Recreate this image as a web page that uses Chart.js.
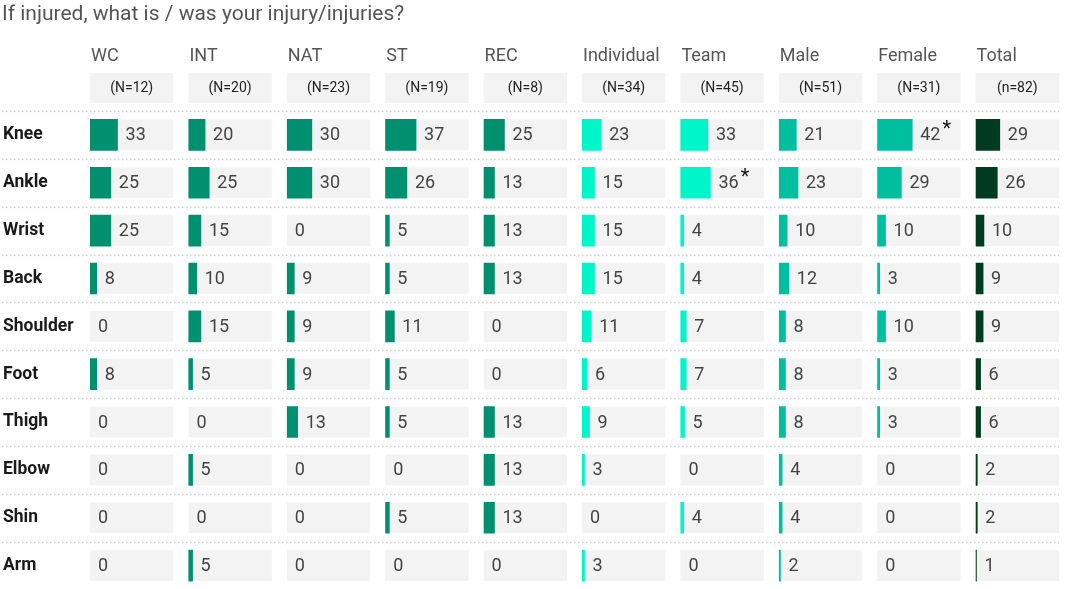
<!DOCTYPE html>
<html>
<head>
<meta charset="utf-8">
<script src="https://cdn.jsdelivr.net/npm/chart.js@4.4.1/dist/chart.umd.min.js"></script>
<style>
  html, body { margin: 0; padding: 0; background: #fff; overflow: hidden; }
  canvas { display: block; }
</style>
</head>
<body>
<canvas id="grafico" width="1065" height="600"></canvas>
<script>
const titulo = 'If injured, what is / was your injury/injuries?';

const lesoes = ['Knee', 'Ankle', 'Wrist', 'Back', 'Shoulder', 'Foot', 'Thigh', 'Elbow', 'Shin', 'Arm'];
const grupos = ['WC', 'INT', 'NAT', 'ST', 'REC', 'Individual', 'Team', 'Male', 'Female', 'Total'];
const amostras = ['(N=12)', '(N=20)', '(N=23)', '(N=19)', '(N=8)', '(N=34)', '(N=45)', '(N=51)', '(N=31)', '(n=82)'];

// percentuais por grupo, na ordem de lesoes
const valoresWC         = [33, 25, 25, 8, 0, 8, 0, 0, 0, 0];
const valoresINT        = [20, 25, 15, 10, 15, 5, 0, 5, 0, 5];
const valoresNAT        = [30, 30, 0, 9, 9, 9, 13, 0, 0, 0];
const valoresST         = [37, 26, 5, 5, 11, 5, 5, 0, 5, 0];
const valoresREC        = [25, 13, 13, 13, 0, 0, 13, 13, 13, 0];
const valoresIndividual = [23, 15, 15, 15, 11, 6, 9, 3, 0, 3];
const valoresTeam       = [33, 36, 4, 4, 7, 7, 5, 0, 4, 0];
const valoresMale       = [21, 23, 10, 12, 8, 8, 8, 4, 4, 2];
const valoresFemale     = [42, 29, 10, 3, 10, 3, 3, 0, 0, 0];
const valoresTotal      = [29, 26, 10, 9, 9, 6, 6, 2, 2, 1];

// diferencas marcadas com asterisco: [grupo, lesao]
const destaques = [['Female', 'Knee'], ['Team', 'Ankle']];

const escalaMax = 100;

const colunas = [valoresWC, valoresINT, valoresNAT, valoresST, valoresREC,
  valoresIndividual, valoresTeam, valoresMale, valoresFemale, valoresTotal];

const cores = ['#00906f', '#00906f', '#00906f', '#00906f', '#00906f',
  '#00f5c8', '#00f5c8', '#00bf9f', '#00bf9f', '#003b1f'];

const fonte = 'Roboto, "Noto Sans", sans-serif';

/* datasets: barras coloridas em cima, fundo cinza embaixo */
const datasets = [];
colunas.forEach((valores, i) => {
  datasets.push({
    label: grupos[i],
    data: valores,
    xAxisID: 'x' + i,
    // zero nao desenha nada (senao fica um risco fino)
    backgroundColor: (c) => c.raw === 0 ? 'rgba(0,0,0,0)' : cores[i],
    barThickness: 31,
    grouped: false,
    order: 0
  });
});
colunas.forEach((valores, i) => {
  datasets.push({
    label: grupos[i] + ' fundo',
    data: lesoes.map(() => escalaMax),
    xAxisID: 'x' + i,
    backgroundColor: '#f3f3f3',
    barThickness: 30,
    grouped: false,
    order: 1
  });
});

const escalas = {
  y: {
    type: 'category',
    position: 'left',
    grid: { display: false },
    border: { display: false },
    ticks: {
      color: '#1a1a1a',
      font: { family: fonte, size: 17.5, weight: 'bold' },
      crossAlign: 'far',
      padding: 0
    },
    afterFit: (s) => { s.width = 87; }
  }
};
grupos.forEach((g, i) => {
  escalas['x' + i] = { type: 'linear', position: 'top', min: 0, max: escalaMax, display: false };
});

const pluginTabela = {
  id: 'tabela',
  afterLayout(chart) {
    // cada grupo ganha sua propria faixa horizontal, com um espaco entre elas
    const area = chart.chartArea;
    const espaco = 15;
    const largura = (area.right - area.left - espaco * (grupos.length - 1)) / grupos.length;
    grupos.forEach((g, i) => {
      const s = chart.scales['x' + i];
      s.left = area.left + i * (largura + espaco);
      s.right = s.left + largura;
      s.width = largura;
      s.configure();
    });
  },
  beforeDatasetsDraw(chart) {
    const ctx = chart.ctx;
    const area = chart.chartArea;
    const y = chart.scales.y;
    const faixa = y.getPixelForValue(1) - y.getPixelForValue(0);

    ctx.save();
    // titulo
    ctx.fillStyle = '#555';
    ctx.font = '21px ' + fonte;
    ctx.textBaseline = 'middle';
    ctx.textAlign = 'left';
    ctx.fillText(titulo, 2, 15);

    // cabecalhos e caixas N
    grupos.forEach((g, i) => {
      const s = chart.scales['x' + i];
      ctx.fillStyle = '#555';
      ctx.font = '18px ' + fonte;
      ctx.textAlign = 'left';
      ctx.fillText(g, s.left + 1, 56);
      ctx.fillStyle = '#f3f3f3';
      ctx.fillRect(s.left, 73, s.width, 30);
      ctx.fillStyle = '#222';
      ctx.font = '14px ' + fonte;
      ctx.textAlign = 'center';
      ctx.fillText(amostras[i], s.left + s.width / 2, 88.5);
    });

    // linhas pontilhadas entre as linhas
    ctx.strokeStyle = '#cccccc';
    ctx.lineWidth = 1.5;
    ctx.setLineDash([1.5, 2.5]);
    lesoes.forEach((l, j) => {
      const yy = Math.round(y.getPixelForValue(j) - faixa / 2) + 0.5;
      ctx.beginPath();
      ctx.moveTo(2, yy);
      ctx.lineTo(area.right, yy);
      ctx.stroke();
    });
    ctx.restore();
  },
  afterDatasetsDraw(chart) {
    const ctx = chart.ctx;
    ctx.save();
    ctx.textBaseline = 'middle';
    ctx.textAlign = 'left';
    colunas.forEach((valores, i) => {
      const meta = chart.getDatasetMeta(i);
      meta.data.forEach((el, j) => {
        const x = el.x + 8;
        const txt = String(valores[j]);
        ctx.fillStyle = '#444';
        ctx.font = '18px ' + fonte;
        ctx.fillText(txt, x, el.y + 1);
        const marcado = destaques.some(d => d[0] === grupos[i] && d[1] === lesoes[j]);
        if (marcado) {
          const w = ctx.measureText(txt).width;
          ctx.fillStyle = '#111';
          ctx.font = '20px ' + fonte;
          ctx.fillText('*', x + w + 2, el.y - 5);
        }
      });
    });
    ctx.restore();
  }
};

new Chart(document.getElementById('grafico'), {
  type: 'bar',
  data: {
    labels: lesoes,
    datasets: datasets
  },
  options: {
    indexAxis: 'y',
    responsive: false,
    animation: false,
    layout: { padding: { left: 3, top: 111, right: 6, bottom: 9 } },
    plugins: {
      legend: { display: false },
      tooltip: { enabled: false }
    },
    scales: escalas
  },
  plugins: [pluginTabela]
});
</script>
</body>
</html>
